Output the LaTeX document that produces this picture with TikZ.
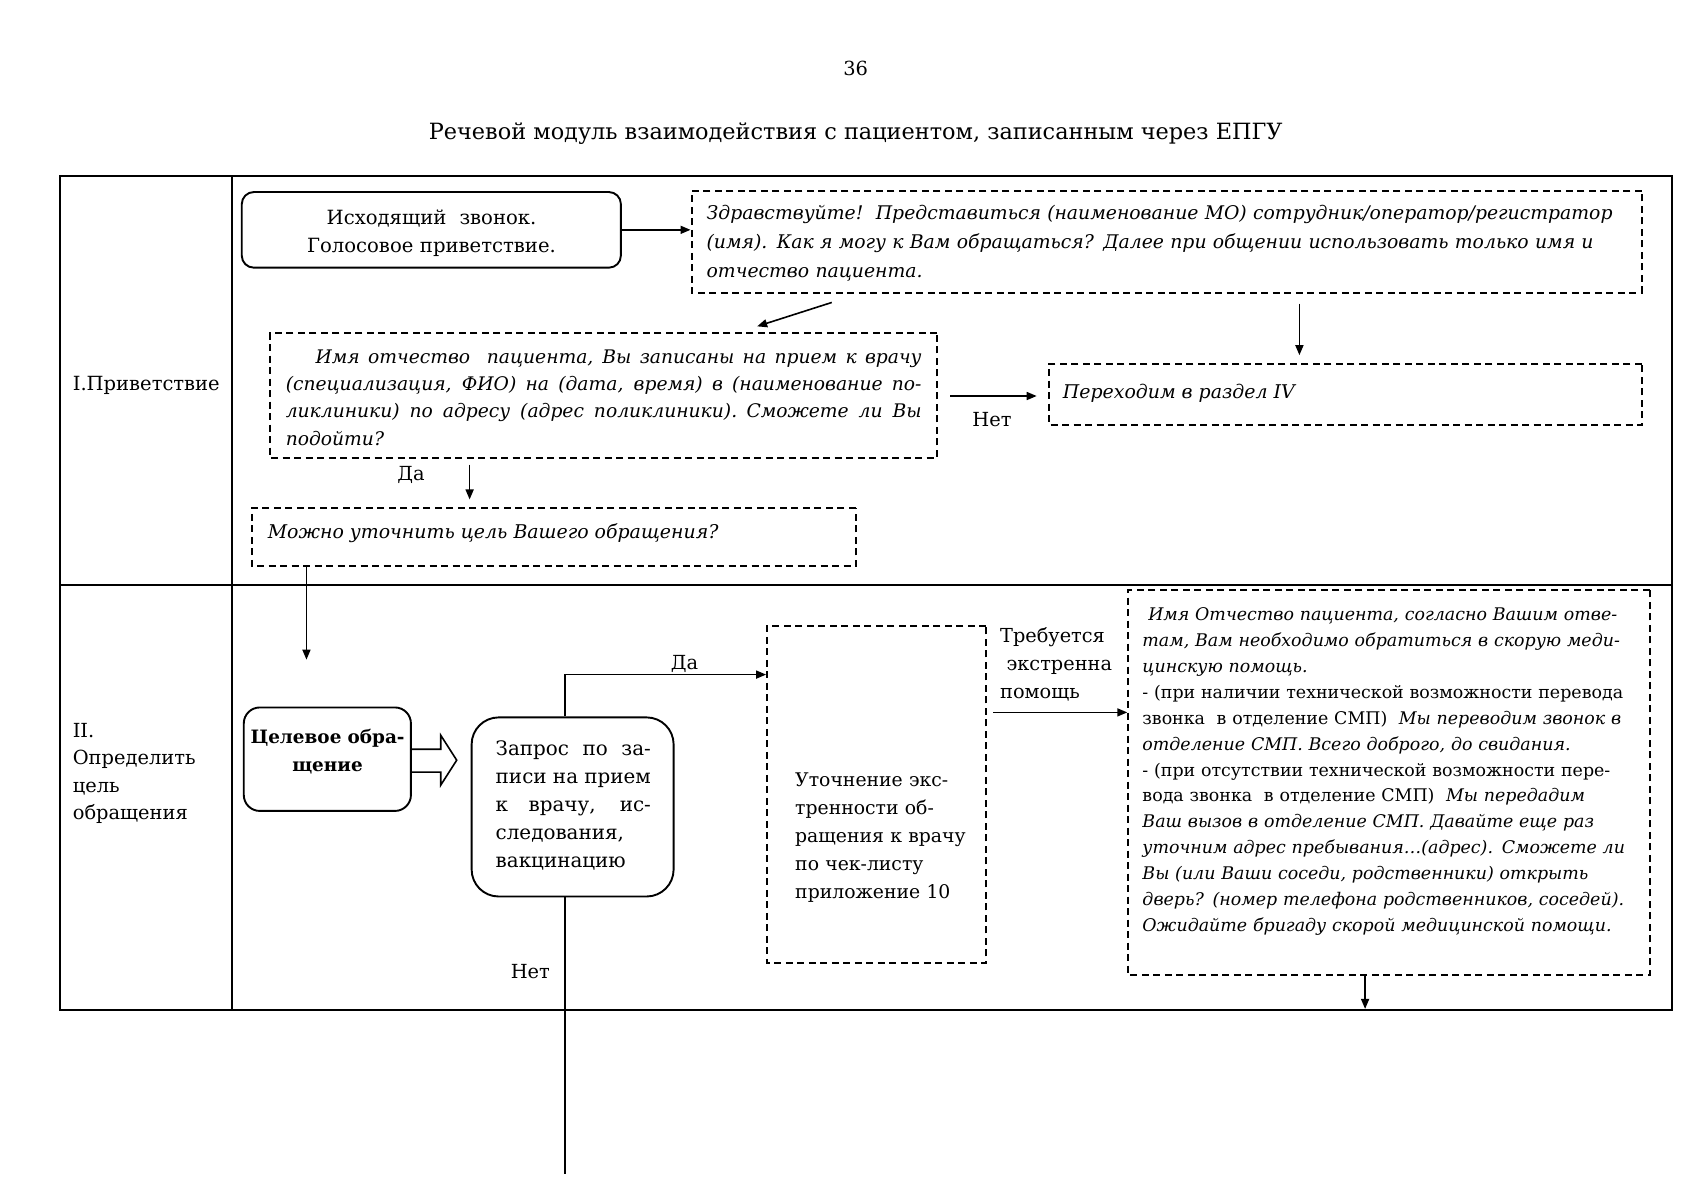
\documentclass[tikz,border=0pt]{standalone}
\usepackage{fontspec}
\setmainfont{DejaVu Serif}
\usetikzlibrary{arrows.meta}
\newcommand\fs[2]{\fontsize{#1}{#2}\selectfont}
\newcommand\Lj[1]{\noindent\hbox to\hsize{\spaceskip=0.3em plus 1fil minus 0.1em\relax #1}\par}
\newcommand\Ln[1]{\noindent\hbox{#1}\par}
\newcommand\Lc[1]{\noindent\hbox to\hsize{\hss#1\hss}\par}
\tikzset{
  frame/.style={line width=1.8pt},
  dbox/.style={draw, line width=2pt, dash pattern=on 7pt off 4.5pt, inner sep=0pt},
  rbox/.style={draw, line width=1.9pt, inner sep=0pt},
  txt/.style={inner sep=0pt, anchor=base west},
  lbl/.style={inner sep=0pt, anchor=base, font=\fs{19.5}{24}},
  arr/.style={line width=1.6pt, -{Triangle[length=10pt,width=8pt]}},
  plain/.style={line width=1.6pt},
}
\begin{document}
\begin{tikzpicture}[x=1pt,y=-1pt]
\useasboundingbox[fill=white] (0,0) rectangle (1704,1200);
\begin{scope}[scale=0.995, transform shape]
% header
\node[lbl] (pnum) at (860,76) {36};
\node[lbl, font=\fs{22.5}{28}] (title) at (860,140) {Речевой модуль взаимодействия с пациентом, записанным через ЕПГУ};

% table
\draw[frame] (60,177) rectangle (1680,1015);
\draw[frame] (233,177) -- (233,1015);
\draw[frame] (60,588) -- (1680,588);

% row labels
\node[txt, font=\fs{19.6}{24}] (lab1) at (73,392) {I.Приветствие};
\node[txt, text width=155, font=\fs{19.5}{27.7}] (lab2) at (73,741) {\Ln{II.}\Ln{Определить}\Ln{цель}\Ln{обращения}};

% box 1
\node[rbox, rounded corners=12pt, minimum width=381, minimum height=76] (b1) at (433.5,231) {};
\node[txt, text width=381, font=\fs{19.7}{28}] (t1) at (243,226) {\Lc{Исходящий\ \ звонок.}\Lc{Голосовое приветствие.}};

% box 2
\node[dbox, minimum width=955, minimum height=102] (b2) at (1172.5,243) {};
\node[txt, text width=930, font=\fs{18.9}{29}\itshape] (t2) at (710,221) {\Ln{Здравствуйте!\ \ Представиться (наименование МО) сотрудник/оператор/регистратор}\Ln{(имя). Как я могу к Вам обращаться? Далее при общении использовать только имя и}\Ln{отчество пациента.}};

% box 3
\node[dbox, minimum width=671, minimum height=125] (b3) at (606.5,397.5) {};
\node[txt, text width=639, font=\fs{18.8}{27.5}\itshape] (t3) at (287,365) {\Lj{\hspace*{30pt}Имя отчество\ \ пациента, Вы записаны на прием к врачу}\Lj{(специализация, ФИО) на (дата, время) в (наименование по-}\Lj{ликлиники) по адресу (адрес поликлиники). Сможете ли Вы}\Ln{подойти?}};

% box 4
\node[dbox, minimum width=596, minimum height=61] (b4) at (1352,396.5) {};
\node[txt, font=\fs{19}{24}\itshape] (t4) at (1068,400) {Переходим в раздел IV};

% box 5
\node[dbox, minimum width=607, minimum height=58] (b5) at (556.5,540) {};
\node[txt, font=\fs{19}{24}\itshape] (t5) at (269,541) {Можно уточнить цель Вашего обращения?};

% box 6
\node[rbox, rounded corners=16pt, minimum width=168, minimum height=104] (b6) at (329,763) {};
\node[txt, text width=168, font=\fs{18.5}{28}\bfseries] (t6) at (245,747) {\Lc{Целевое обра-}\Lc{щение}};
\draw[plain] (b6.east |- 0,753) -- (443,753) -- (443,739) -- (459,764) -- (443,789) -- (443,776) -- (b6.east |- 0,776);

% box 8
\node[rbox, rounded corners=27pt, minimum width=203, minimum height=180] (b8) at (575.5,811) {};
\node[txt, text width=156, font=\fs{20}{28.3}] (t8) at (498,759) {\Lj{Запрос по за-}\Lj{писи на прием}\Lj{к врачу, ис-}\Ln{следования,}\Ln{вакцинацию}};

% box 9
\node[dbox, minimum width=220, minimum height=339] (b9) at (881,798.5) {};
\node[txt, text width=185, font=\fs{18.9}{28.3}] (t9) at (799,790) {\Ln{Уточнение экс-}\Ln{тренности об-}\Ln{ращения к врачу}\Ln{по чек-листу}\Ln{приложение 10}};

% box 7
\node[dbox, minimum width=524, minimum height=387] (b7) at (1396,786.5) {};
\node[txt, text width=505, font=\fs{17.5}{26}] (t7) at (1148,624) {%
\Ln{\itshape\ Имя Отчество пациента, согласно Вашим отве-}%
\Ln{\itshape там, Вам необходимо обратиться в скорую меди-}%
\Ln{\itshape цинскую помощь.}%
\Ln{- (при наличии технической возможности перевода}%
\Ln{звонка\ \ в отделение СМП)\ \ \textit{Мы переводим звонок в}}%
\Ln{\itshape отделение СМП. Всего доброго, до свидания.}%
\Ln{- (при отсутствии технической возможности пере-}%
\Ln{вода звонка\ \ в отделение СМП)\ \ \textit{Мы передадим}}%
\Ln{\itshape Ваш вызов в отделение СМП. Давайте еще раз}%
\Ln{\itshape уточним адрес пребывания…(адрес). Сможете ли}%
\Ln{\itshape Вы (или Ваши соседи, родственники) открыть}%
\Ln{\itshape дверь? (номер телефона родственников, соседей).}%
\Ln{\itshape Ожидайте бригаду скорой медицинской помощи.}};

% labels
\node[txt, text width=120, font=\fs{19.4}{28}] (lt) at (1005,646) {\Ln{Требуется}\Ln{\ экстренна}\Ln{помощь}};
\node[lbl] (no1) at (997,429) {Нет};
\node[lbl] (yes1) at (413,483) {Да};
\node[lbl] (yes2) at (688,673) {Да};
\node[lbl] (no2) at (533,983) {Нет};

% connectors
\draw[arr] (b1.east) -- (b1.east -| b2.west);
\coordinate (d1) at (836,304);
\coordinate (d2) at (761,328);
\draw[arr] (d1) -- (d2);
\coordinate (x4) at (1306,0);
\draw[arr, shorten <=10pt, shorten >=8pt] (b2.south -| x4) -- (b4.north -| x4);
\coordinate (y34) at (0,398);
\draw[arr, shorten <=12pt, shorten >=11pt] (b3.east |- y34) -- (b4.west |- y34);
\coordinate (x35) at (472,0);
\draw[arr, shorten <=6pt, shorten >=8pt] (b3.south -| x35) -- (b5.north -| x35);
\coordinate (c56) at (308,663);
\draw[arr] (b5.south -| c56) -- (c56);
\coordinate (x8) at (568,0);
\coordinate (y89) at (0,678);
\draw[arr] (b8.north -| x8) -- (x8 |- y89) -- (b9.west |- y89);
\coordinate (nEnd) at (568,1180);
\draw[plain] (b8.south -| nEnd) -- (nEnd);
\coordinate (y97) at (0,716);
\draw[arr, shorten <=6pt] (b9.east |- y97) -- (b7.west |- y97);
\coordinate (b7out) at (1372,1014);
\draw[arr] (b7.south -| b7out) -- (b7out);
\end{scope}
\end{tikzpicture}
\end{document}
